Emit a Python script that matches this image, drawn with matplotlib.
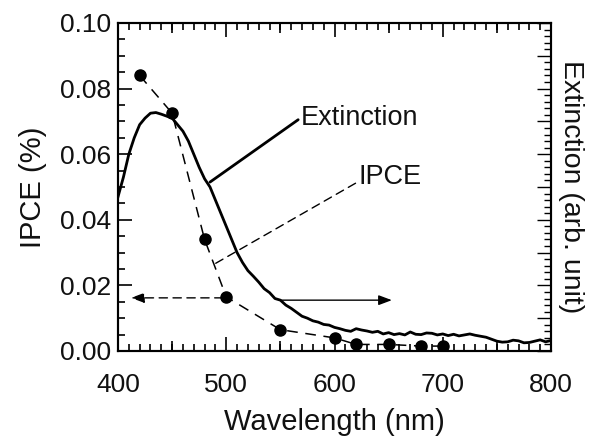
import numpy as np
import matplotlib
matplotlib.use("Agg")
import matplotlib.pyplot as plt
from matplotlib.ticker import MultipleLocator, FormatStrFormatter

plt.rcParams['font.family'] = ['Liberation Sans', 'DejaVu Sans']

# IPCE data (left axis, %)
ipce_wl = [420, 450, 480, 500, 550, 600, 620, 650, 680, 700]
ipce_val = [0.084, 0.0725, 0.034, 0.0165, 0.0065, 0.004, 0.002, 0.002, 0.0015, 0.0015]

# Extinction spectrum (right axis, arb. unit)
ext_wl = [400, 405, 410, 415, 420, 425, 430, 435, 440, 445, 450, 455, 460, 465, 470,
          475, 480, 485, 490, 495, 500, 505, 510, 515, 520, 525, 530, 535, 540, 545,
          550, 555, 560, 565, 570, 575, 580, 585, 590, 595, 600, 605, 610, 615, 620,
          625, 630, 635, 640, 645, 650, 655, 660, 665, 670, 675, 680, 685, 690, 695,
          700, 705, 710, 715, 720, 725, 730, 735, 740, 745, 750, 755, 760, 765, 770,
          775, 780, 785, 790, 795, 800]
ext_val = [0.47, 0.53, 0.60, 0.65, 0.69, 0.71, 0.725, 0.727, 0.722, 0.716, 0.71, 0.69,
           0.67, 0.64, 0.60, 0.56, 0.525, 0.50, 0.46, 0.42, 0.38, 0.34, 0.30, 0.27,
           0.245, 0.228, 0.21, 0.19, 0.178, 0.16, 0.155, 0.14, 0.13, 0.118, 0.106,
           0.100, 0.092, 0.088, 0.081, 0.079, 0.072, 0.068, 0.063, 0.060, 0.068, 0.064,
           0.061, 0.057, 0.060, 0.052, 0.056, 0.050, 0.053, 0.049, 0.058, 0.051, 0.050,
           0.055, 0.054, 0.049, 0.052, 0.047, 0.051, 0.046, 0.049, 0.052, 0.048, 0.045,
           0.042, 0.036, 0.030, 0.027, 0.028, 0.033, 0.031, 0.025, 0.026, 0.030, 0.034,
           0.028, 0.032]

fig = plt.figure(figsize=(5.92, 4.41), dpi=100)
pos = [118/592, 1-351/441, 433/592, 328/441]
ax = fig.add_axes(pos)
ax2 = ax.twinx()
# overlay axes for the mid-decade (50 nm) ticks
ax3 = fig.add_axes(pos, frameon=False)
ax3.set_xlim(400, 800)
ax3.set_xticks(np.arange(450, 800, 100))
ax3.set_yticks([])
ax3.tick_params(axis='x', direction='in', top=True, bottom=True, length=7.5,
                width=1.2, labelbottom=False)
ax3.patch.set_visible(False)

# IPCE dashed line with markers
ax.plot(ipce_wl, ipce_val, color='black', lw=1.1, ls=(0, (7, 5)), zorder=3)
ax.plot(ipce_wl, ipce_val, 'o', color='black', ms=8, zorder=4)

# Extinction
ax2.plot(ext_wl, ext_val, color='black', lw=2.0, zorder=3)

ax.set_xlim(400, 800)
ax.set_ylim(0, 0.10)
ax2.set_ylim(0, 1.0)

ax.xaxis.set_major_locator(MultipleLocator(100))
ax.xaxis.set_minor_locator(MultipleLocator(10))
ax.yaxis.set_major_locator(MultipleLocator(0.02))
ax.yaxis.set_minor_locator(MultipleLocator(0.005))
ax.yaxis.set_major_formatter(FormatStrFormatter('%.2f'))

ax.tick_params(which='both', direction='in', top=True, right=False, width=1.2,
               labelsize=19, color='black', labelcolor='#111111')
ax.tick_params(which='major', length=10)
ax.tick_params(which='minor', length=5)
ax.tick_params(axis='x', pad=16)
ax.tick_params(axis='y', pad=5)

ax2.yaxis.set_major_locator(MultipleLocator(0.1))
ax2.yaxis.set_minor_locator(MultipleLocator(0.02))
ax2.tick_params(which='both', direction='in', labelright=False, width=1.0)
ax2.tick_params(which='major', length=10)
ax2.tick_params(which='minor', length=5)

for a in (ax, ax2):
    for s in a.spines.values():
        s.set_linewidth(1.5)

ax.set_xlabel('Wavelength (nm)', fontsize=21, labelpad=8, color='#111111')
ax.set_ylabel('IPCE (%)', fontsize=21, labelpad=9, color='#111111')
ax2.set_ylabel('Extinction (arb. unit)', fontsize=20.5, rotation=270, labelpad=24,
               color='#111111')

# Annotations
ax.annotate('Extinction', xy=(485, 0.0515), xytext=(569, 0.071),
            fontsize=19.5, va='center', ha='left', color='#111111',
            arrowprops=dict(arrowstyle='-', color='black', lw=2.0,
                            shrinkA=0, shrinkB=0, relpos=(-0.02, 0.45)))
ax.annotate('IPCE', xy=(489, 0.0265), xytext=(622, 0.053),
            fontsize=19.5, va='center', ha='left', color='#111111',
            arrowprops=dict(arrowstyle='-', color='black', lw=1.0, ls=(0, (6, 4)),
                            shrinkA=0, shrinkB=0, relpos=(-0.02, 0.3)))

# Axis-indicating arrows
ax.annotate('', xy=(412, 0.0162), xytext=(497, 0.0162),
            arrowprops=dict(arrowstyle='-|>,head_length=0.8,head_width=0.3',
                            color='black', lw=1.0, ls=(0, (6, 4)), shrinkA=0, shrinkB=0))
ax.annotate('', xy=(653, 0.0155), xytext=(551, 0.0155),
            arrowprops=dict(arrowstyle='-|>,head_length=0.8,head_width=0.3',
                            color='black', lw=1.0, shrinkA=0, shrinkB=0))

fig.savefig('out.png', dpi=100)
